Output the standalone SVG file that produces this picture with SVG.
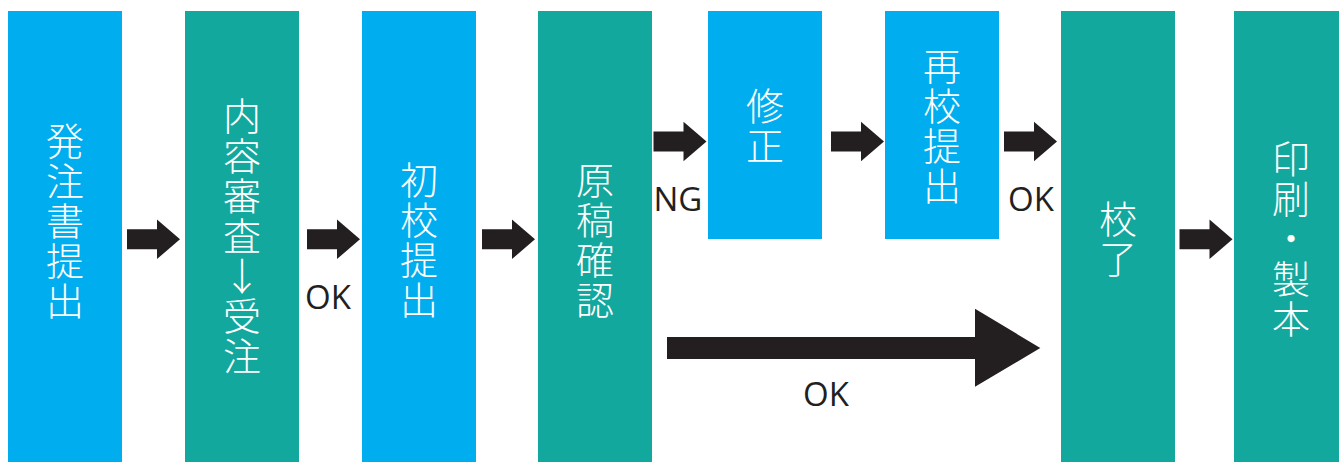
<svg xmlns="http://www.w3.org/2000/svg" xmlns:xlink="http://www.w3.org/1999/xlink" width="1339" height="462" viewBox="0 0 1339 462">
<style>
.blue{fill:#00AEEF}
.teal{fill:#13A89E}
.jp{font-family:"Noto Sans CJK JP","Noto Sans CJK SC",sans-serif;font-size:38px;font-weight:300;fill:#FFFFFF;text-anchor:middle;writing-mode:vertical-rl;text-orientation:upright;letter-spacing:2px}
.lbl{font-family:"Open Sans","Noto Sans",sans-serif;font-size:33px;fill:#231F20}
.arr{fill:#231F20}
</style>
<defs>
<path id="sa" d="M0,-10 H30 V-19.75 L53,0 L30,19.75 V10 H0 Z"/>
</defs>
<rect width="1339" height="462" fill="#FFFFFF"/>
<g id="n1"><rect class="blue" x="8" y="11" width="114" height="451"/>
<text class="jp" x="65" y="222">発注書提出</text></g>
<g id="n2"><rect class="teal" x="185" y="11" width="114" height="451"/>
<text class="jp" x="242" y="237">内容審査↓受注</text></g>
<g id="n3"><rect class="blue" x="362" y="11" width="114" height="451"/>
<text class="jp" x="419" y="241">初校提出</text></g>
<g id="n4"><rect class="teal" x="538" y="11" width="114" height="451"/>
<text class="jp" x="595" y="241">原稿確認</text></g>
<g id="n5"><rect class="blue" x="708" y="11" width="114" height="228"/>
<text class="jp" x="765" y="126.5">修正</text></g>
<g id="n6"><rect class="blue" x="885" y="11" width="114" height="228"/>
<text class="jp" x="942" y="126.5">再校提出</text></g>
<g id="n7"><rect class="teal" x="1061" y="11" width="114" height="451"/>
<text class="jp" x="1118" y="240">校了</text></g>
<g id="n8"><rect class="teal" x="1234" y="11" width="114" height="451"/>
<text class="jp" x="1291" y="240">印刷・製本</text></g>
<g id="connectors">
<use class="arr" xlink:href="#sa" x="127" y="239.3"/>
<use class="arr" xlink:href="#sa" x="307" y="239.3"/>
<use class="arr" xlink:href="#sa" x="482" y="239.3"/>
<use class="arr" xlink:href="#sa" x="1179.5" y="239.3"/>
<use class="arr" xlink:href="#sa" x="653.5" y="141.5"/>
<use class="arr" xlink:href="#sa" x="831" y="141.5"/>
<use class="arr" xlink:href="#sa" x="1004" y="141.5"/>
<path class="arr" d="M667,337 H975 V308.7 L1040.3,348 L975,386.7 V359 H667 Z"/>
<text class="lbl" x="305" y="309">OK</text>
<text class="lbl" x="653.5" y="211">NG</text>
<text class="lbl" x="1008" y="211">OK</text>
<text class="lbl" x="803" y="406">OK</text>
</g>
</svg>
